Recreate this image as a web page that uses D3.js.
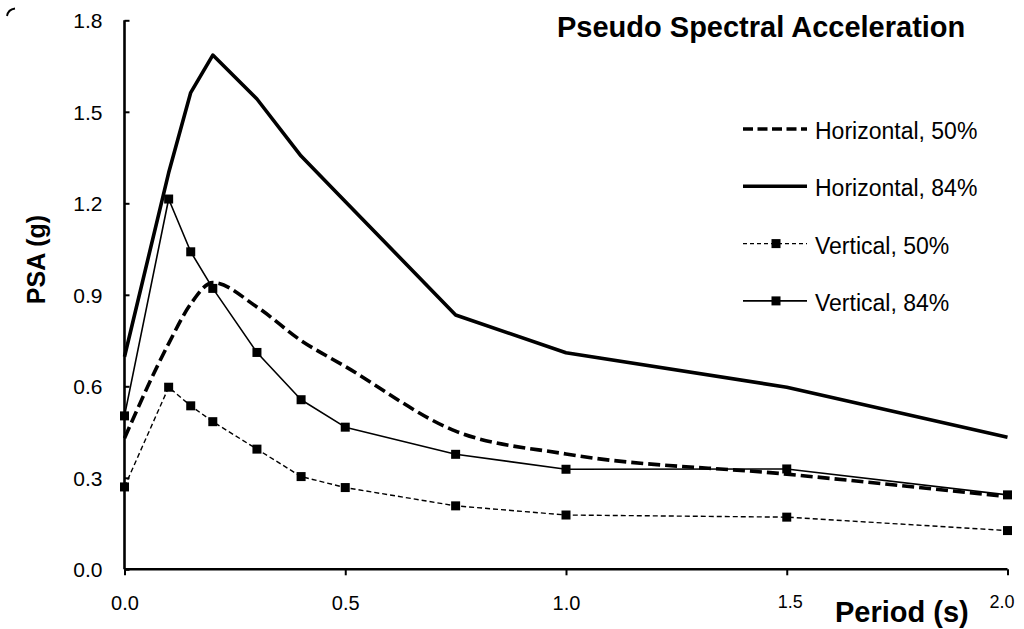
<!DOCTYPE html>
<html>
<head>
<meta charset="utf-8">
<script src="https://cdn.jsdelivr.net/npm/d3@7"></script>
<style>
  html, body { margin: 0; padding: 0; background: #fff; }
  svg { display: block; }
  text { font-family: "Liberation Sans", Arial, sans-serif; fill: #000; }
</style>
</head>
<body>
<svg id="chart" width="1024" height="629"></svg>
<script>
// Periods (s) at which the spectra are evaluated
const periods = [0, 0.1, 0.15, 0.2, 0.3, 0.4, 0.5, 0.75, 1.0, 1.5, 2.0];

// Pseudo spectral acceleration (g)
const horiz50 = [0.43, 0.74, 0.87, 0.94, 0.86, 0.75, 0.665, 0.453, 0.378, 0.312, 0.238];
const horiz84 = [0.697, 1.30, 1.563, 1.686, 1.542, 1.355, 1.206, 0.834, 0.710, 0.597, 0.433];
const vert50  = [0.27, 0.597, 0.536, 0.484, 0.394, 0.304, 0.268, 0.208, 0.178, 0.171, 0.127];
const vert84  = [0.503, 1.214, 1.041, 0.921, 0.711, 0.556, 0.466, 0.377, 0.328, 0.329, 0.244];

const seriesNames = ["Horizontal, 50%", "Horizontal, 84%", "Vertical, 50%", "Vertical, 84%"];

// Axis ticks
const xTicks = [0, 0.5, 1.0, 1.5, 2.0];
const yTicks = [0, 0.3, 0.6, 0.9, 1.2, 1.5, 1.8];

const titleText = "Pseudo Spectral Acceleration";
const xTitle = "Period (s)";
const yTitle = "PSA (g)";

const svg = d3.select("#chart");

const x = d3.scaleLinear().domain([0, 2]).range([124.5, 1007.5]);
const y = d3.scaleLinear().domain([0, 1.8]).range([569.3, 20.3]);

// series styling
const series = [
  { name: seriesNames[0], values: horiz50, width: 3.6, dash: "12,5", markers: false, curve: d3.curveMonotoneX },
  { name: seriesNames[1], values: horiz84, width: 3.6, dash: null, markers: false, curve: d3.curveLinear },
  { name: seriesNames[2], values: vert50, width: 1.4, dash: "5,3", markers: true, curve: d3.curveLinear },
  { name: seriesNames[3], values: vert84, width: 1.6, dash: null, markers: true, curve: d3.curveLinear }
];

// small stray arc in the top-left corner
svg.append("path")
  .attr("d", "M7,16 Q8,9.5 15,8.5")
  .attr("fill", "none").attr("stroke", "#000").attr("stroke-width", 1.8);

// Y axis
const yAxis = d3.axisLeft(y).tickValues(yTicks).tickFormat(d3.format(".1f")).tickSize(0).tickPadding(22);
const gy = svg.append("g").attr("transform", `translate(${x(0)},0)`).call(yAxis);
gy.select(".domain").attr("stroke", "#000").attr("stroke-width", 2.6)
  .attr("d", `M0,${y(1.8)}V${y(0)}`);
gy.selectAll(".tick text").style("font-size", "21px").attr("dy", "0.35em");
gy.selectAll(".tick").append("line").attr("x1", 0).attr("x2", 5).attr("stroke", "#000").attr("stroke-width", 2);

// X axis
const xAxis = d3.axisBottom(x).tickValues(xTicks).tickFormat(d3.format(".1f")).tickSize(6).tickPadding(0);
const gx = svg.append("g").attr("transform", `translate(0,${y(0)})`).call(xAxis);
gx.select(".domain").attr("stroke", "#000").attr("stroke-width", 2.6)
  .attr("d", `M${x(0)},0H${x(2)}`);
gx.selectAll(".tick line").attr("stroke", "#000").attr("stroke-width", 2);
gx.selectAll(".tick text")
  .attr("dy", null)
  .style("font-size", d => d >= 1.5 ? "18px" : "20px")
  .attr("dx", d => d === 2 ? -6 : (d === 1.5 ? 3 : 0))
  .attr("y", d => d >= 1.5 ? 39 : 41);

// Lines
const plot = svg.append("g");
series.forEach(s => {
  const pts = periods.map((p, i) => [p, s.values[i]]);
  const line = d3.line().x(d => x(d[0])).y(d => y(d[1])).curve(s.curve);
  plot.append("path")
    .attr("d", line(pts))
    .attr("fill", "none")
    .attr("stroke", "#000")
    .attr("stroke-width", s.width)
    .attr("stroke-dasharray", s.dash)
    .attr("stroke-linejoin", "round");
  if (s.markers) {
    plot.selectAll(null).data(pts).enter().append("rect")
      .attr("x", d => x(d[0]) - 4.5)
      .attr("y", d => y(d[1]) - 4.5)
      .attr("width", 9).attr("height", 9)
      .attr("fill", "#000");
  }
});

// Title and axis titles
svg.append("text")
  .attr("x", 557).attr("y", 37)
  .style("font-size", "29px").style("font-weight", "bold")
  .text(titleText);

svg.append("text")
  .attr("x", 835).attr("y", 622)
  .style("font-size", "29px").style("font-weight", "bold")
  .text(xTitle);

svg.append("text")
  .attr("transform", "translate(45,259.5) rotate(-90)")
  .attr("text-anchor", "middle")
  .style("font-size", "25px").style("font-weight", "bold")
  .text(yTitle);

// Legend
const legend = svg.append("g");
series.forEach((s, i) => {
  const by = 139 + i * 57.3;
  const ly = by - 10;
  legend.append("line")
    .attr("x1", 743).attr("x2", 807).attr("y1", ly).attr("y2", ly)
    .attr("stroke", "#000")
    .attr("stroke-width", s.width)
    .attr("stroke-dasharray", s.dash ? (s.markers ? "4,3" : "10,4.5") : null);
  if (s.markers) {
    legend.append("rect")
      .attr("x", 776 - 4.5).attr("y", ly - 4.5)
      .attr("width", 9).attr("height", 9).attr("fill", "#000");
  }
  legend.append("text")
    .attr("x", 815).attr("y", by)
    .style("font-size", "23px")
    .text(s.name);
});
</script>
</body>
</html>
